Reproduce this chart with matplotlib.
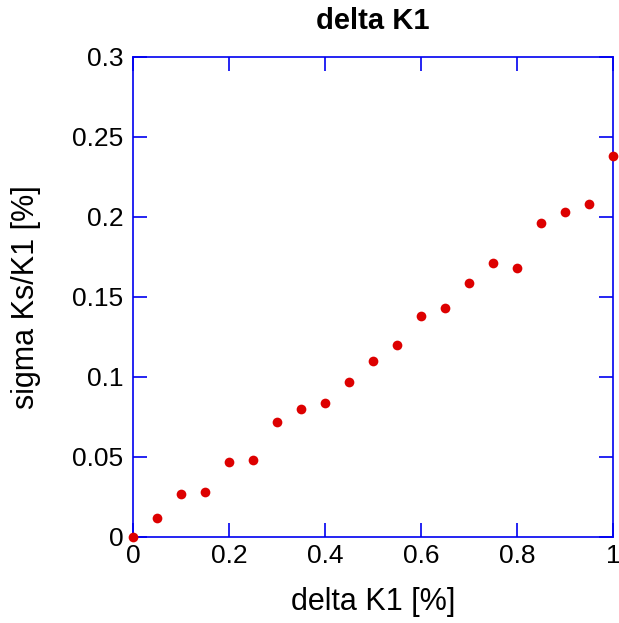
import matplotlib
matplotlib.use('Agg')
import matplotlib.pyplot as plt
import numpy as np

plt.rcParams['font.family'] = ['Liberation Sans', 'DejaVu Sans']

# delta K1 [%] and resulting sigma Ks/K1 [%]
delta_k1 = [0, 0.05, 0.1, 0.15, 0.2, 0.25, 0.3, 0.35, 0.4, 0.45, 0.5,
            0.55, 0.6, 0.65, 0.7, 0.75, 0.8, 0.85, 0.9, 0.95, 1.0]
sigma_ks = [0.0, 0.012, 0.027, 0.028, 0.047, 0.048, 0.072, 0.080, 0.084,
            0.097, 0.110, 0.120, 0.138, 0.143, 0.159, 0.171, 0.168, 0.196,
            0.203, 0.208, 0.238]
xticks = [0, 0.2, 0.4, 0.6, 0.8, 1]
yticks = [0, 0.05, 0.1, 0.15, 0.2, 0.25, 0.3]

fig = plt.figure(figsize=(6.19, 6.23), dpi=100)
ax = fig.add_axes([133/619, 1 - 537/623, 480/619, 480/623])

ax.plot(delta_k1, sigma_ks, 'o', color='#dd0000', markersize=7,
        markeredgewidth=0, clip_on=False, zorder=3)

ax.set_xlim(0, 1)
ax.set_ylim(0, 0.3)
ax.set_xticks(xticks)
ax.set_xticklabels(['0', '0.2', '0.4', '0.6', '0.8', '1'])
ax.set_yticks(yticks)
ax.set_yticklabels(['0', '0.05', '0.1', '0.15', '0.2', '0.25', '0.3'])

for s in ax.spines.values():
    s.set_color('#0000f0')
    s.set_linewidth(1.2)
ax.tick_params(direction='in', length=10, width=1.2, color='#0000f0',
               top=True, right=True, labelsize=19)
ax.tick_params(axis='x', pad=5)
ax.tick_params(axis='y', pad=7)

ax.set_title('delta K1', fontsize=21, fontweight='bold', pad=20)
ax.set_xlabel('delta K1 [%]', fontsize=22, labelpad=14)
ax.set_ylabel('sigma Ks/K1 [%]', fontsize=22, labelpad=22)

plt.savefig('out.png', dpi=100)
